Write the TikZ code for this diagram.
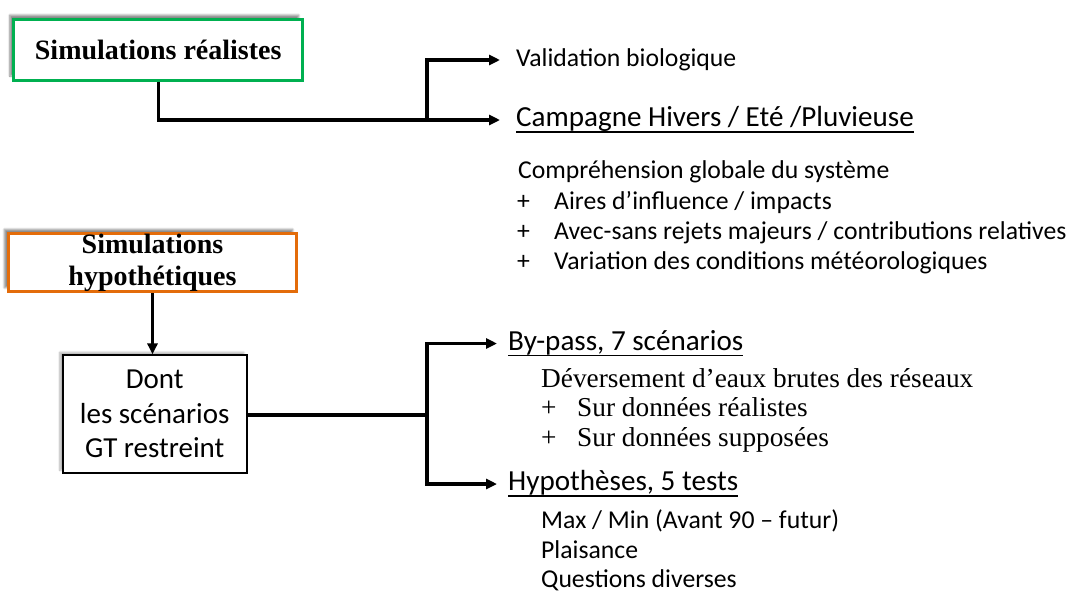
\documentclass[tikz,border=0pt]{standalone}
\usepackage{fontspec}
\setmainfont{Carlito}
\newfontfamily\serifb{Liberation Serif}
\usetikzlibrary{arrows.meta,shadows.blur}
\definecolor{gbord}{HTML}{00B050}
\definecolor{obord}{HTML}{E36C0A}
\begin{document}
\begin{tikzpicture}[x=1pt,y=-1pt,
  lnk/.style={line width=3.4pt},
  tip/.style={-{Triangle[length=11pt,width=10pt]}},
  conn/.style={lnk,tip,shorten >=16pt},
  connb/.style={lnk,tip,shorten >=11pt},
  uline/.style={line width=1.5pt},
  headbox/.style={draw,line width=3pt,fill=white,align=center,inner sep=0pt,
    font=\serifb\bfseries\fontsize{28}{31.7}\selectfont,
    blur shadow={shadow xshift=-4pt,shadow yshift=4pt,shadow blur steps=8,shadow opacity=45}},
  dontbox/.style={draw,line width=1.6pt,fill=white,align=center,inner sep=0pt,
    minimum width=184pt,minimum height=118pt,font=\fontsize{29}{34.5}\selectfont,
    blur shadow={shadow xshift=-3pt,shadow yshift=3pt,shadow blur steps=8,shadow opacity=30}},
  tx/.style={anchor=west,inner sep=0pt,text height=20pt,text depth=7pt},
  big/.style={tx,font=\fontsize{29.1}{32}\selectfont},
  small/.style={tx,font=\fontsize{25.7}{28}\selectfont},
  ser/.style={tx,font=\serifb\fontsize{27.3}{30}\selectfont},
]
\useasboundingbox (0,0) rectangle (1073,592);

% top part
\node[headbox,draw=gbord,minimum width=289pt,minimum height=61pt] (real) at (158.2,49.5) {Simulations réalistes};
\node[small] (valid) at (516,60) {Validation biologique};
\node[big] (camp) at (516,120) {Campagne Hivers / Eté /Pluvieuse};
\draw[uline] ([yshift=-5.5pt]camp.base west) -- ([yshift=-5.5pt]camp.base east);
\coordinate (j1) at (427,120);
\draw[conn] (real.south) |- (camp.west);
\draw[conn] (j1) |- (valid.west);

\node[small] (comp) at (518,172) {Compréhension globale du système};
\node[small] (p1) at (517,202.5) {+};
\node[small] (t1) at (554,202.5) {Aires d’influence / impacts};
\node[small] (p2) at (517,232.5) {+};
\node[small] (t2) at (554,232.5) {Avec-sans rejets majeurs / contributions relatives};
\node[small] (p3) at (517,262.5) {+};
\node[small] (t3) at (554,262.5) {Variation des conditions météorologiques};

% bottom part
\node[headbox,draw=obord,minimum width=288.4pt,minimum height=58.4pt] (hyp0) at (152.5,262.5) {Simulations\\hypothétiques};
\node[dontbox] (dont) at (154.7,414.2) {Dont\\les scénarios\\GT restreint};
\draw[lnk,tip] (hyp0.south) -- (hyp0.south |- dont.north);

\node[big] (bypass) at (508,343.5) {By-pass, 7 scénarios};
\draw[uline] ([yshift=-5.5pt]bypass.base west) -- ([yshift=-5.5pt]bypass.base east);
\node[big] (hyp) at (508,484) {Hypothèses, 5 tests};
\draw[uline] ([yshift=-5.5pt]hyp.base west) -- ([yshift=-5.5pt]hyp.base east);
\coordinate (j2) at (427,415);
\draw[lnk] (dont.east |- j2) -- (j2);
\draw[connb] (j2) |- (bypass.west);
\draw[connb] (j2) |- (hyp.west);

\node[ser] (dev) at (541,380.5) {Déversement d’eaux brutes des réseaux};
\node[ser] (p4) at (541,410) {+};
\node[ser] (t4) at (577,410) {Sur données réalistes};
\node[ser] (p5) at (541,439.5) {+};
\node[ser] (t5) at (577,439.5) {Sur données supposées};

\node[small] (mm) at (541,521.5) {Max / Min (Avant 90 – futur)};
\node[small] (pl) at (541,551.5) {Plaisance};
\node[small] (qd) at (541,581) {Questions diverses};
\end{tikzpicture}
\end{document}
